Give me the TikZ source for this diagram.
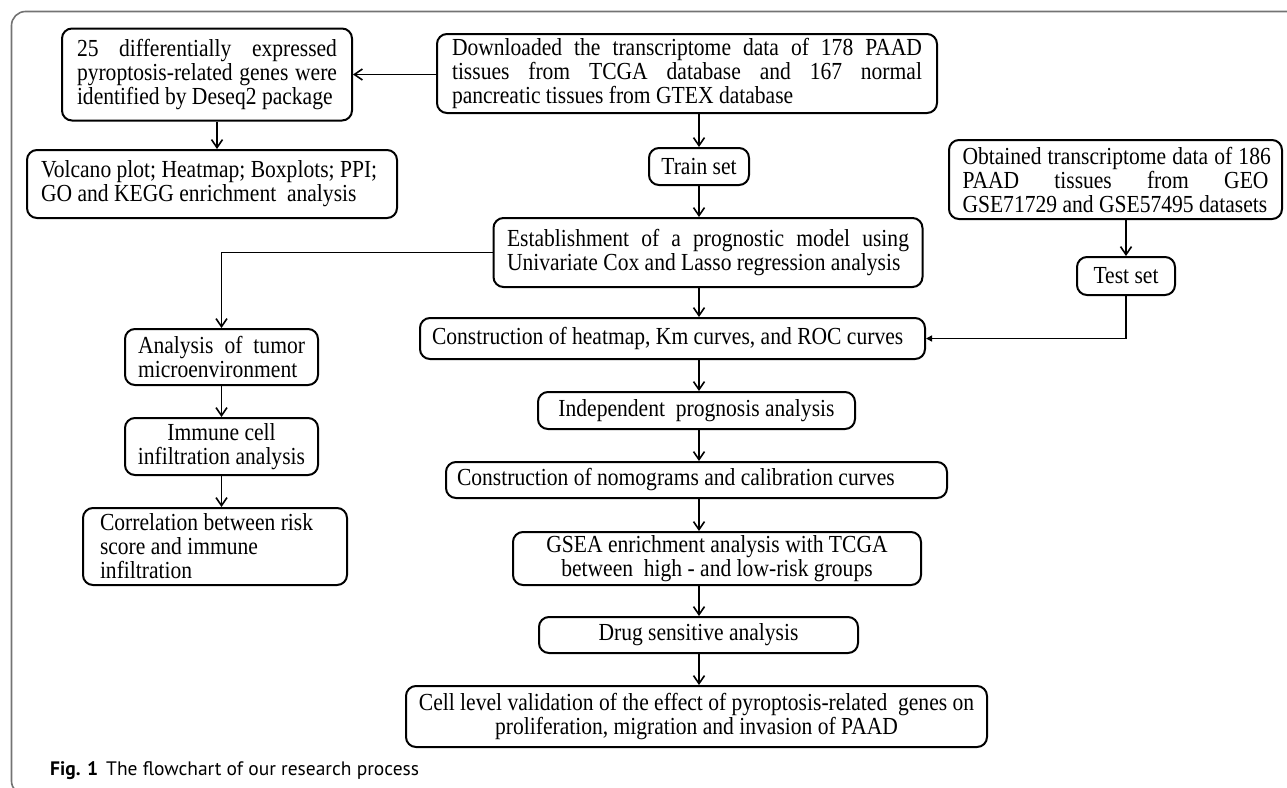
\documentclass[tikz,border=0pt]{standalone}
\usepackage{fontspec}
\setmainfont{Liberation Serif}[FakeStretch=0.88]
\newfontfamily\capfont{PT Sans}
\usetikzlibrary{arrows.meta}
\setlength\parindent{0pt}
\newcommand\jl[1]{\leavevmode\hbox to \hsize{\spaceskip=.25em plus 1fil\relax #1}}
\tikzset{
  box/.style={draw=black, line width=2pt, rounded corners=10pt, inner sep=0pt,
    font=\fontsize{24.5pt}{24pt}\selectfont},
  boxl/.style={box, align=flush left},
  boxc/.style={box, align=flush center},
  arr/.style={line width=1.6pt, -{Straight Barb[length=8pt,width=11pt,line width=1.6pt]}},
  arrs/.style={line width=1.6pt, -{Triangle[length=6pt,width=6pt]}},
  frame/.style={draw=black!55, line width=1.6pt, rounded corners=14pt},
}
\begin{document}
\begin{tikzpicture}[x=1pt,y=-1pt]
\useasboundingbox (0,0) rectangle (1287,787);
\draw[frame] (11.5,11.5) rectangle (1320,795);

\node[boxl, minimum width=290, minimum height=92, text width=260] (A) at (207,74.5)
  {\jl{25 differentially expressed}\\ \jl{pyroptosis-related genes were}\\ identified by Deseq2 package};
\node[boxl, minimum width=500, minimum height=79, text width=470] (B) at (687,73.5)
  {\jl{Downloaded the transcriptome data of 178 PAAD}\\ \jl{tissues from TCGA database and 167 normal}\\ pancreatic tissues from GTEX database};
\node[boxl, minimum width=370, minimum height=68, text width=342] (C) at (212,184)
  {Volcano plot; Heatmap; Boxplots; PPI;\\ GO and KEGG enrichment\ \ analysis};
\node[boxc, minimum width=100, minimum height=37] (train) at (699,166.5) {Train set};
\node[boxl, minimum width=333, minimum height=79, text width=306] (D) at (1115.5,179.5)
  {\jl{Obtained transcriptome data of 186}\\ \jl{PAAD tissues from GEO}\\ GSE71729 and GSE57495 datasets};
\node[boxl, minimum width=429, minimum height=69, text width=402] (E) at (708,252.5)
  {\jl{Establishment of a prognostic model using}\\ Univariate Cox and Lasso regression analysis};
\node[boxc, minimum width=98, minimum height=38] (test) at (1126,276) {Test set};
\node[boxl, minimum width=505, minimum height=41, text width=481] (F) at (672.5,338.5)
  {Construction of heatmap, Km curves, and ROC curves};
\node[boxl, minimum width=193, minimum height=56, text width=167] (an) at (221.5,357)
  {\jl{Analysis of tumor}\\ microenvironment};
\node[boxc, minimum width=317, minimum height=37] (ind) at (696.5,410.5)
  {Independent\ \ prognosis analysis};
\node[boxc, minimum width=193, minimum height=57, text width=193] (imm) at (221.5,446.5)
  {Immune cell\\ infiltration analysis};
\node[boxl, minimum width=501, minimum height=36, text width=479] (nomo) at (696.5,480)
  {Construction of nomograms and calibration curves};
\node[boxl, minimum width=264, minimum height=77, text width=230] (cor) at (215,546.5)
  {Correlation between risk\\ score and immune\\ infiltration};
\node[boxc, minimum width=408, minimum height=53, text width=400] (gsea) at (717,558.5)
  {GSEA enrichment analysis with TCGA\\ between\ \ high - and low-risk groups};
\node[boxc, minimum width=319, minimum height=36] (drug) at (698.5,635)
  {Drug sensitive analysis};
\node[boxc, minimum width=581, minimum height=61, text width=575] (cell) at (696.5,716.5)
  {Cell level validation of the effect of pyroptosis-related\ \ genes on\\ proliferation, migration and invasion of PAAD};

\node[anchor=base west, inner sep=0pt, font=\capfont\fontsize{19.5pt}{21pt}\selectfont] (cap) at (50,775)
  {\textbf{Fig. 1}\hspace{8pt}The flowchart of our research process};

\coordinate (col) at (699,0);
\draw[arr] (B.west |- A.east) -- (A.east);
\draw[arr] (A.south -| 217,0) -- (C.north -| 217,0);
\draw[arr] (train.north |- B.south) -- (train.north);
\draw[arr] (train.south) -- (train.south |- E.north);
\draw[arr] (E.south -| col) -- (F.north -| col);
\draw[arr] (F.south -| col) -- (ind.north -| col);
\draw[arr] (ind.south -| col) -- (nomo.north -| col);
\draw[arr] (nomo.south -| col) -- (gsea.north -| col);
\draw[arr] (gsea.south -| col) -- (drug.north -| col);
\draw[arr] (drug.south -| col) -- (cell.north -| col);
\draw[arr] (test.north |- D.south) -- (test.north);
\draw[arrs] (test.south) -- (test.south |- F.east) -- (F.east);
\draw[arr] (E.west) -- (E.west -| an.north) -- (an.north);
\draw[arr] (an.south) -- (imm.north);
\draw[arr] (imm.south) -- (imm.south |- cor.north);
\end{tikzpicture}
\end{document}
